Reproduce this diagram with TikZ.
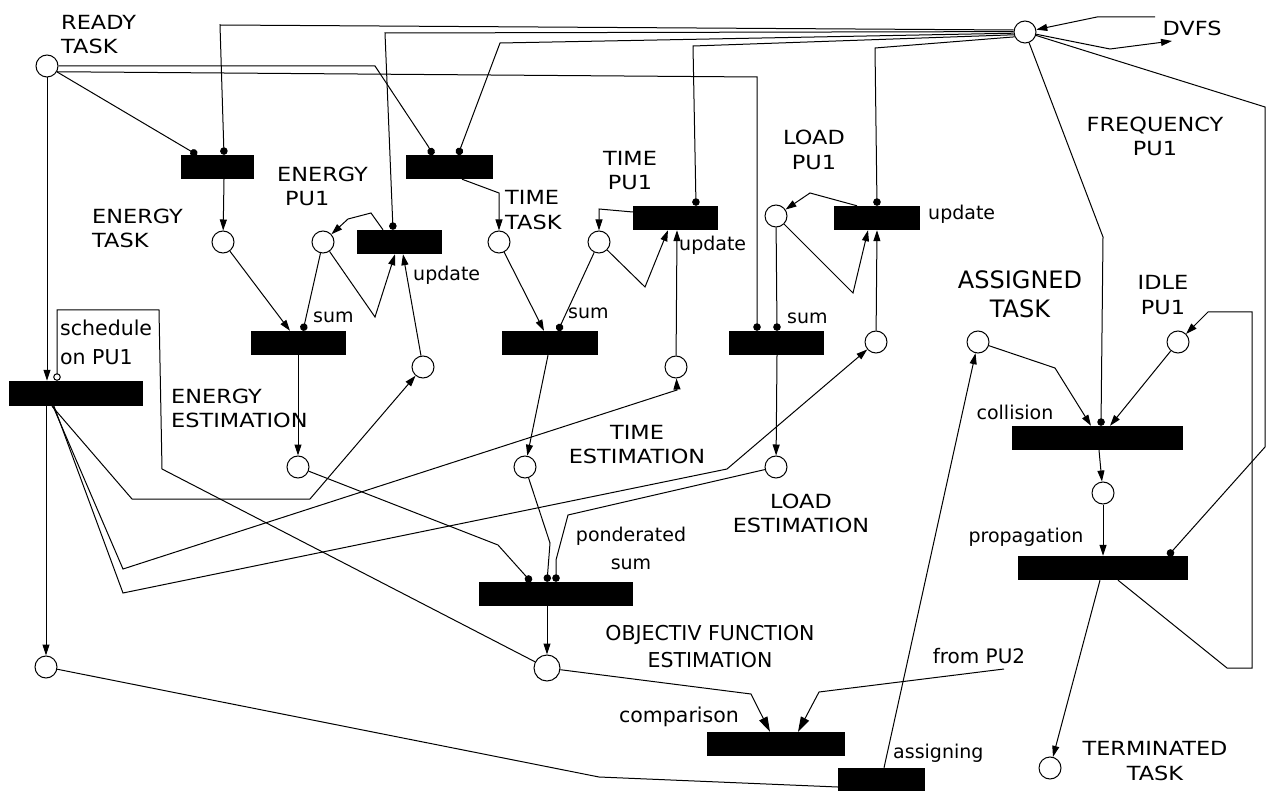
\documentclass[tikz,border=0pt]{standalone}
\usepackage{fontspec}
\setmainfont{DejaVu Sans}
\newfontfamily\capfont[FakeStretch=1.15]{DejaVu Sans}
\usetikzlibrary{arrows.meta}

\tikzset{
  place/.style={circle,draw,line width=1pt,minimum size=22pt,inner sep=0pt,fill=white},
  trans/.style={rectangle,fill=black,inner sep=0pt},
  arc/.style={line width=1pt,-{Triangle[length=11pt,width=7pt]}},
  bigarc/.style={line width=1pt,-{Triangle[length=15pt,width=9pt]}},
  rd/.style={line width=1pt,-{Circle[length=7.5pt]}},
  inh/.style={line width=1pt,-{Circle[open,length=7.5pt]}},
  ln/.style={line width=1pt},
  caplbl/.style={font=\capfont\fontsize{19.5}{24.5}\selectfont,inner sep=0pt},
  lowlbl/.style={font=\fontsize{19}{28}\selectfont,inner sep=0pt},
}

\begin{document}
\begin{tikzpicture}[x=1pt,y=-1pt]
\useasboundingbox (0,0) rectangle (1266,791);

% ---------------- places ----------------
\node[place] (pready)    at (47,66) {};
\node[place] (pdvfs)     at (1025,32) {};
\node[place] (petask)    at (223,242) {};
\node[place] (pepu)      at (323,242) {};
\node[place] (pedelta)   at (423,367) {};
\node[place] (peest)     at (298,467) {};
\node[place] (pttask)    at (499,242) {};
\node[place] (ptpu)      at (599,242) {};
\node[place] (ptdelta)   at (676,367) {};
\node[place] (ptest)     at (525,467) {};
\node[place] (plpu)      at (776,216) {};
\node[place] (pldelta)   at (876,342) {};
\node[place] (plest)     at (776,467) {};
\node[place,minimum size=26pt] (pobj) at (547,668) {};
\node[place] (pbl)       at (46,667) {};
\node[place] (passigned) at (978,342) {};
\node[place] (pidle)     at (1178,342) {};
\node[place] (pcoll)     at (1103,493) {};
\node[place] (pterm)     at (1050,768) {};

% ---------------- transitions ----------------
\node[trans,minimum width=134pt,minimum height=25pt] (tsched)  at (76,393.5) {};
\node[trans,minimum width=73pt,minimum height=24pt]  (tetask)  at (217.5,167) {};
\node[trans,minimum width=87pt,minimum height=24pt]  (tttask)  at (449.5,167) {};
\node[trans,minimum width=85pt,minimum height=24pt]  (teupd)   at (399.5,242) {};
\node[trans,minimum width=95pt,minimum height=24pt]  (tesum)   at (298.5,343) {};
\node[trans,minimum width=85pt,minimum height=24pt]  (ttupd)   at (675.5,218) {};
\node[trans,minimum width=96pt,minimum height=24pt]  (ttsum)   at (550,343) {};
\node[trans,minimum width=86pt,minimum height=24pt]  (tlupd)   at (877,218) {};
\node[trans,minimum width=95pt,minimum height=24pt]  (tlsum)   at (776.5,343) {};
\node[trans,minimum width=154pt,minimum height=24pt] (tpond)   at (556,594) {};
\node[trans,minimum width=138pt,minimum height=24pt] (tcomp)   at (776,744) {};
\node[trans,minimum width=87pt,minimum height=23pt]  (tassign) at (881.5,779.5) {};
\node[trans,minimum width=171pt,minimum height=24pt] (tcoll)   at (1097.5,438) {};
\node[trans,minimum width=170pt,minimum height=24pt] (tprop)   at (1103,568) {};

% ---------------- labels ----------------
\node[caplbl,align=left,anchor=west] (lready) at (61,34.5) {READY\\TASK};
\node[caplbl] (ldvfs) at (1192,28) {DVFS};
\node[caplbl,align=center] at (1155,136.5) {FREQUENCY\\PU1};
\node[caplbl,align=left,anchor=west] at (277,186.5) {ENERGY\\\hspace*{8pt}PU1};
\node[caplbl,align=left,anchor=west] at (92,228.5) {ENERGY\\TASK};
\node[caplbl,align=center] at (630,170.5) {TIME\\PU1};
\node[caplbl,align=left,anchor=west] at (505,210) {TIME\\TASK};
\node[caplbl,align=center] at (814,150) {LOAD\\PU1};
\node[caplbl,align=left,anchor=west] at (171,408.5) {ENERGY\\ESTIMATION};
\node[caplbl,align=center] at (637,444.5) {TIME\\ESTIMATION};
\node[caplbl,align=center] at (801,513.5) {LOAD\\ESTIMATION};
\node[caplbl,align=center] at (1155,761) {TERMINATED\\TASK};
\node[caplbl,align=center] at (1163,295) {IDLE\\PU1};
\node[lowlbl,font=\fontsize{24}{29}\selectfont,align=center] at (1020,294.5) {ASSIGNED\\TASK};

\node[lowlbl,anchor=west] at (413,275) {update};
\node[lowlbl,anchor=west] at (679,245) {update};
\node[lowlbl,anchor=west] at (928,214) {update};
\node[lowlbl,anchor=west] at (313,317) {sum};
\node[lowlbl,anchor=west] at (568,313) {sum};
\node[lowlbl,anchor=west] at (787,318) {sum};
\node[lowlbl,font=\fontsize{20.5}{29}\selectfont,align=left,anchor=west] at (60,342.5) {schedule\\on PU1};
\node[lowlbl,align=center] at (631,548.5) {ponderated\\sum};
\node[lowlbl,font=\fontsize{20.5}{27}\selectfont,align=center] at (710,646.5) {OBJECTIV FUNCTION\\ESTIMATION};
\node[lowlbl,font=\fontsize{20}{27}\selectfont] (lpu2) at (979,656) {from PU2};
\node[lowlbl,font=\fontsize{20.5}{27}\selectfont] at (679,717) {comparison};
\node[lowlbl,anchor=west] at (893,753) {assigning};
\node[lowlbl] at (1015,412) {collision};
\node[lowlbl] at (1026,537) {propagation};

% ---------------- DVFS connections ----------------
\coordinate (dvfsin) at (1155,17);
\coordinate (pu2in) at (1004,669);
\draw[arc] (dvfsin) -- (1097,17) -- (pdvfs);
\draw[arc] (pdvfs) -- (1110,49) -- (1172,41);
\draw[rd] (pdvfs.170) -- (220,25) -- (tetask.north -| 224,0);
\draw[rd] (pdvfs.178) -- (385,33) -- (teupd.north -| 393,0);
\draw[rd] (pdvfs.186) -- (500,43) -- (tttask.north -| 458,0);
\draw[rd] (pdvfs.194) -- (693,46) -- (ttupd.north -| 696,0);
\draw[rd] (pdvfs.205) -- (875,48) -- (tlupd.north -| 877,0);
\draw[rd] (pdvfs) -- (1103,237) -- (tcoll.north -| 1101,0);
\draw[rd] (pdvfs) -- (1265,107) -- (1265,447) -- (tprop.north -| 1168,0);

% ---------------- ready task ----------------
\draw[arc] (pready) -- (tsched.north -| 47,0);
\draw[rd] (pready) -- (tetask.north -| 197,0);
\draw[rd] (pready) -- (375,66) -- (428,146) -- (tttask.north -| 433,0);
\draw[rd] (pready.-30) -- (757,77) -- (tlsum.north -| 757,0);

% ---------------- energy ----------------
\draw[arc] (tetask.south -| 224,0) -- (petask);
\draw[arc] (petask) -- (tesum.north -| 290,0);
\draw[rd] (pepu) -- (tesum.north -| 303,0);
\draw[arc] (pepu) -- (375,317) -- (teupd.south -| 395,0);
\draw[arc] (teupd.north -| 383,0) -- (371,213) -- (348,219) -- (pepu);
\draw[arc] (pedelta) -- (teupd.south -| 403,0);
\draw[arc] (tesum.south -| 298,0) -- (peest);
\draw[arc] (tsched.south -| 52,0) -- (132,499) -- (310,499) -- (pedelta);

% ---------------- time ----------------
\draw[arc] (tttask.south -| 462,0) -- (499,193) -- (pttask);
\draw[arc] (pttask) -- (ttsum.north -| 544,0);
\draw[rd] (ptpu) -- (ttsum.north -| 558,0);
\draw[arc] (ptpu) -- (645,287) -- (ttupd.south -| 668,0);
\draw[arc] (ttupd.west |- 0,212) -- (599,209) -- (ptpu);
\draw[arc] (ptdelta) -- (ttupd.south -| 677,0);
\draw[arc] (ttsum.south -| 548,0) -- (ptest);
\draw[arc] (tsched.south -| 53,0) -- (123,569) -- (677,390) -- (ptdelta);

% ---------------- load ----------------
\draw[rd] (plpu) -- (tlsum.north -| 777,0);
\draw[arc] (plpu) -- (853,293) -- (tlupd.south -| 868,0);
\draw[arc] (tlupd.north -| 857,0) -- (810,193) -- (plpu);
\draw[arc] (pldelta) -- (tlupd.south -| 877,0);
\draw[arc] (tlsum.south -| 777,0) -- (plest);
\draw[arc] (tsched.south -| 54,0) -- (123,593) -- (727,469) -- (pldelta);

% ---------------- objective function ----------------
\draw[rd] (peest) -- (498,545) -- (tpond.north -| 531,0);
\draw[rd] (ptest) -- (550,543) -- (tpond.north -| 547,0);
\draw[rd] (plest) -- (568,515) -- (556,560) -- (tpond.north -| 556,0);
\draw[arc] (tpond.south -| 547,0) -- (pobj);
\draw[inh] (pobj) -- (162,469) -- (159,310) -- (57,310) -- (tsched.north -| 57,0);
\draw[bigarc] (pobj) -- (751,694) -- (tcomp.north -| 770,0);
\draw[bigarc] (pu2in) -- (819,692) -- (tcomp.north -| 798,0);

% ---------------- assignment ----------------
\draw[arc] (tsched.south -| 46,0) -- (pbl);
\draw[ln] (pbl) -- (599,777) -- (tassign.west |- 0,787);
\draw[arc] (tassign.north -| 884,0) -- (passigned);
\draw[arc] (passigned) -- (1055,368) -- (tcoll.north -| 1091,0);
\draw[arc] (pidle) -- (tcoll.north -| 1110,0);
\draw[arc] (tcoll.south -| 1099,0) -- (pcoll);
\draw[arc] (pcoll) -- (tprop.north -| 1103,0);
\draw[arc] (tprop.south -| 1100,0) -- (pterm);
\draw[arc] (tprop.south -| 1118,0) -- (1227,668) -- (1252,668) -- (1252,312) -- (1208,312) -- (pidle);
\end{tikzpicture}
\end{document}
